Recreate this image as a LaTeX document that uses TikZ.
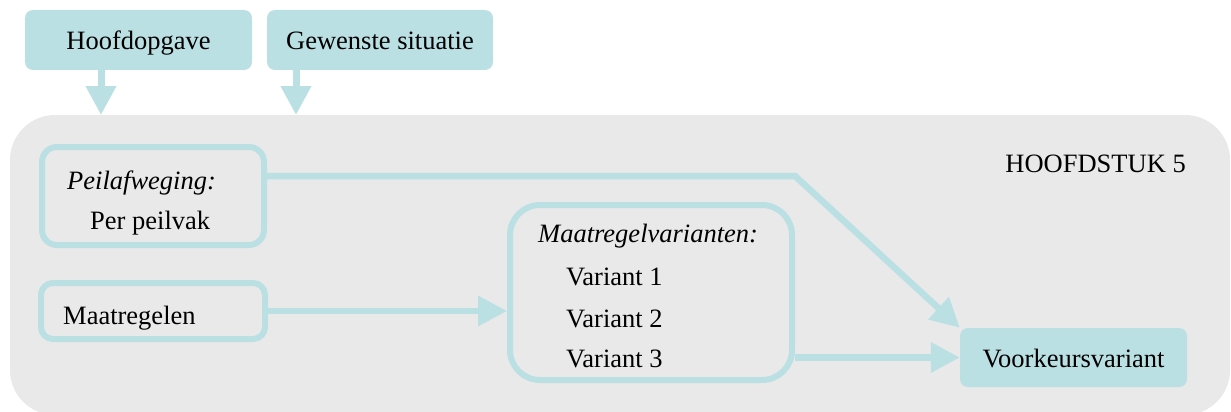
\documentclass[tikz,border=0pt]{standalone}
\usepackage{fontspec}
\setmainfont{Liberation Serif}
\usetikzlibrary{arrows.meta}
\definecolor{tealbox}{RGB}{186,224,227}
\definecolor{chapbg}{RGB}{233,233,233}
\begin{document}
\begin{tikzpicture}[x=1pt,y=-1pt,
  font=\fontsize{26.5}{32}\selectfont,
  fbox/.style={fill=tealbox, rounded corners=8pt, inner sep=0pt, text height=23pt, text depth=4pt},
  obox/.style={draw=tealbox, line width=6pt, inner sep=0pt},
  conn/.style={draw=tealbox, line width=6.5pt, -{Triangle[length=29pt,width=29pt]}},
  lbl/.style={anchor=base west, inner sep=0pt},
]
\useasboundingbox (0,0) rectangle (1231,412);
\node[fill=chapbg, rounded corners=45pt, minimum width=1220pt, minimum height=300pt, inner sep=0pt] (chap) at (620,265) {};

\node[fbox, minimum width=227pt, minimum height=60pt] (hoofd) at (138.5,40) {Hoofdopgave};
\node[fbox, minimum width=226pt, minimum height=60pt] (gew) at (380,40) {Gewenste situatie};
\node[fbox, minimum width=227pt, minimum height=59pt] (voor) at (1073.5,357.5) {Voorkeursvariant};

\node[obox, rounded corners=15pt, minimum width=222pt, minimum height=98pt] (peil) at (153,196) {};
\node[obox, rounded corners=12pt, minimum width=224pt, minimum height=56pt] (maat) at (153,311) {};
\node[obox, rounded corners=30pt, minimum width=282pt, minimum height=175pt] (var) at (651,292.5) {};

\node[lbl] (tpeil) at (67,189) {\itshape Peilafweging:};
\node[lbl] (tper) at (90,229) {Per peilvak};
\node[lbl] (tmaat) at (63,324) {Maatregelen};
\node[lbl] (tvar) at (538,242) {\itshape Maatregelvarianten:};
\node[lbl] (tv1) at (566,285) {Variant 1};
\node[lbl] (tv2) at (566,327) {Variant 2};
\node[lbl] (tv3) at (566,367) {Variant 3};
\node[anchor=base east, inner sep=0pt] (hfd) at (1186,172) {HOOFDSTUK 5};

\coordinate (a1) at (101,115);
\coordinate (a2) at (296,115);
\coordinate (b1) at (795,176);
\draw[conn, line width=7pt] (hoofd.south -| a1) -- (a1);
\draw[conn, line width=7pt] (gew.south -| a2) -- (a2);
\draw[conn] (peil.east |- b1) -- (b1) -- (voor.north west);
\draw[conn] (maat.east) -- (maat.east -| var.west);
\draw[conn] (var.east |- voor.west) -- (voor.west);
\end{tikzpicture}
\end{document}
